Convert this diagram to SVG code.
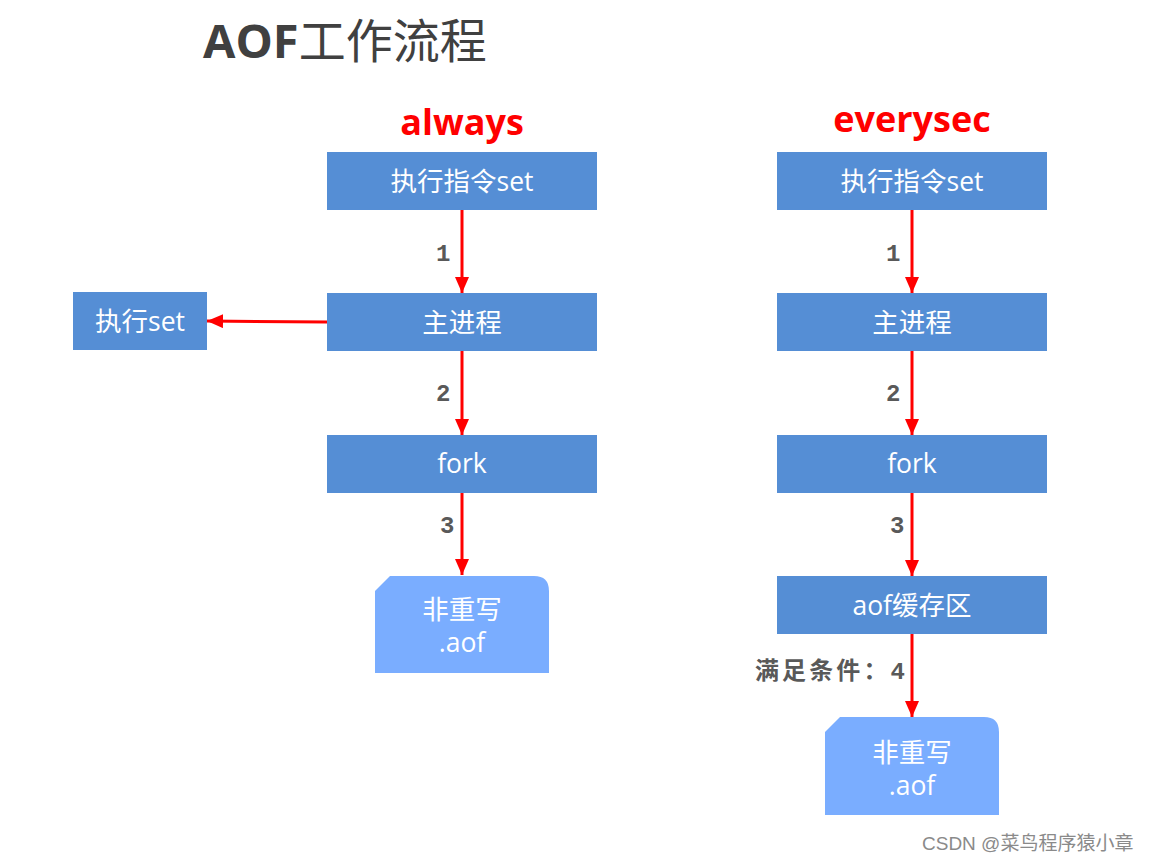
<svg xmlns="http://www.w3.org/2000/svg" width="1149" height="862" viewBox="0 0 1149 862">
<style>
.box{fill:#558ed5;}
.file{fill:#7aadff;}
.bt{font-family:"Open Sans","Noto Sans CJK SC",sans-serif;font-size:26.5px;fill:#ffffff;text-anchor:middle;}
.num{font-family:"Liberation Mono","Noto Sans CJK SC",monospace;font-weight:bold;font-size:24px;fill:#595959;}
.head{font-family:"Open Sans","Noto Sans CJK SC",sans-serif;font-weight:bold;font-size:36px;fill:#ff0000;text-anchor:middle;}
</style>
<defs>
<marker id="ahb" markerWidth="16" markerHeight="14" refX="16" refY="7" orient="auto" markerUnits="userSpaceOnUse">
<path d="M0,0 L16,7 L0,14 Z" fill="#ff0000"/>
</marker>
</defs>
<rect width="1149" height="862" fill="#ffffff"/>
<text x="203" y="58" font-family="Open Sans, Noto Sans CJK SC, sans-serif" font-weight="bold" font-size="47" fill="#404040">AOF<tspan font-weight="normal">工作流程</tspan></text>
<text class="head" x="462" y="135">always</text>
<text class="head" x="912" y="132">everysec</text>
<g id="connectors">
<line x1="462" y1="210" x2="462" y2="293" stroke="#ff0000" stroke-width="3" marker-end="url(#ahb)"/>
<line x1="462" y1="351" x2="462" y2="435" stroke="#ff0000" stroke-width="3" marker-end="url(#ahb)"/>
<line x1="462" y1="493" x2="462" y2="575" stroke="#ff0000" stroke-width="3" marker-end="url(#ahb)"/>
<line x1="327" y1="322" x2="207" y2="321" stroke="#ff0000" stroke-width="3" marker-end="url(#ahb)"/>
<line x1="912" y1="210" x2="912" y2="293" stroke="#ff0000" stroke-width="3" marker-end="url(#ahb)"/>
<line x1="912" y1="351" x2="912" y2="435" stroke="#ff0000" stroke-width="3" marker-end="url(#ahb)"/>
<line x1="912" y1="493" x2="912" y2="576" stroke="#ff0000" stroke-width="3" marker-end="url(#ahb)"/>
<line x1="912" y1="634" x2="912" y2="717" stroke="#ff0000" stroke-width="3" marker-end="url(#ahb)"/>
<text class="num" x="436" y="261">1</text>
<text class="num" x="436" y="401">2</text>
<text class="num" x="440" y="533">3</text>
<text class="num" x="886" y="261">1</text>
<text class="num" x="886" y="401">2</text>
<text class="num" x="890" y="533">3</text>
<text class="num" x="755" y="679" font-size="25" textLength="150" lengthAdjust="spacing">满足条件：4</text>
</g>
<g id="n-left-cmd"><rect class="box" x="327" y="152" width="270" height="58"/><text class="bt" x="462" y="191">执行指令set</text></g>
<g id="n-left-main"><rect class="box" x="327" y="293" width="270" height="58"/><text class="bt" x="462" y="332">主进程</text></g>
<g id="n-left-exec"><rect class="box" x="73" y="292" width="134" height="58"/><text class="bt" x="140" y="331">执行set</text></g>
<g id="n-left-fork"><rect class="box" x="327" y="435" width="270" height="58"/><text class="bt" x="462" y="473">fork</text></g>
<g id="n-left-file"><path class="file" d="M390,576 L534,576 Q549,576 549,591 L549,673 L375,673 L375,591 Z"/><text class="bt" x="462" y="619">非重写</text><text class="bt" x="462" y="652">.aof</text></g>
<g id="n-right-cmd"><rect class="box" x="777" y="152" width="270" height="58"/><text class="bt" x="912" y="191">执行指令set</text></g>
<g id="n-right-main"><rect class="box" x="777" y="293" width="270" height="58"/><text class="bt" x="912" y="332">主进程</text></g>
<g id="n-right-fork"><rect class="box" x="777" y="435" width="270" height="58"/><text class="bt" x="912" y="473">fork</text></g>
<g id="n-right-buf"><rect class="box" x="777" y="576" width="270" height="58"/><text class="bt" x="912" y="615">aof缓存区</text></g>
<g id="n-right-file"><path class="file" d="M840,717 L984,717 Q999,717 999,732 L999,815 L825,815 L825,732 Z"/><text class="bt" x="912" y="762">非重写</text><text class="bt" x="912" y="795">.aof</text></g>
<text x="922" y="850" font-family="Liberation Sans, Noto Sans CJK SC, sans-serif" font-size="19" fill="#8a8a8a">CSDN @菜鸟程序猿小章</text>
</svg>
